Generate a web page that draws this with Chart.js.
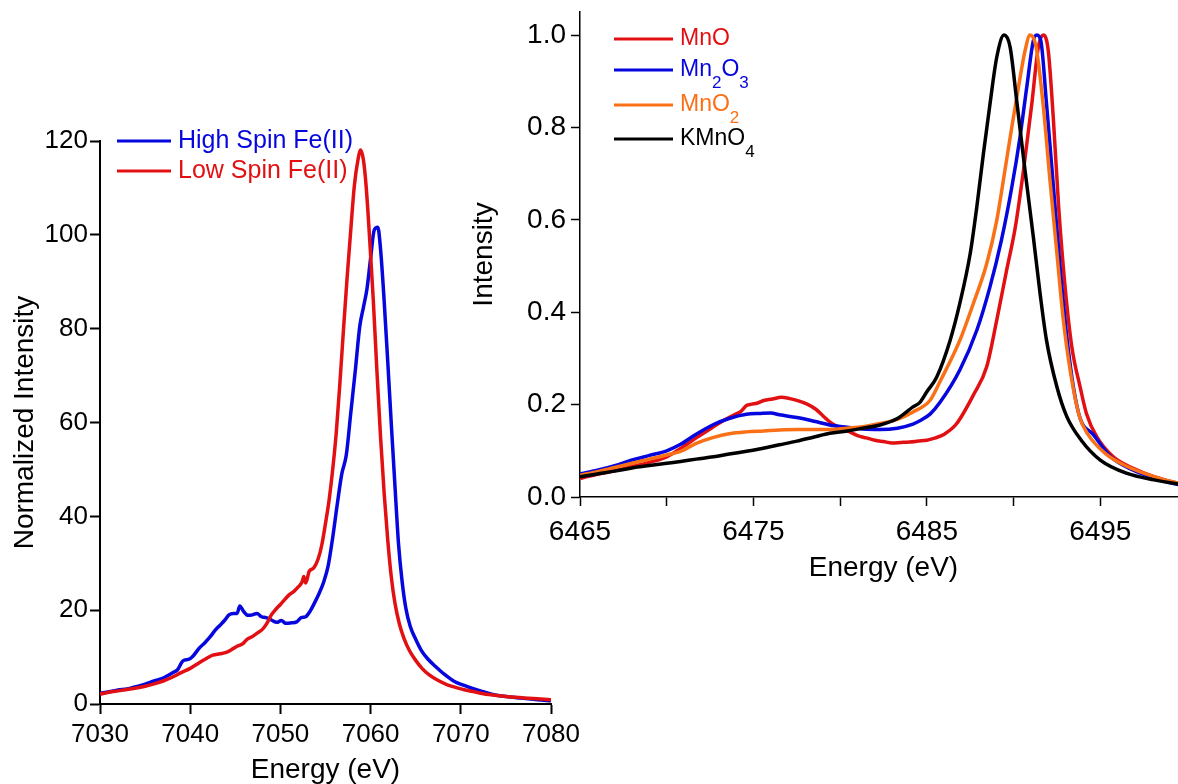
<!DOCTYPE html>
<html>
<head>
<meta charset="utf-8">
<script src="https://cdn.jsdelivr.net/npm/chart.js@4.4.0/dist/chart.umd.min.js"></script>
<style>
  html, body { margin: 0; padding: 0; background: #fff; width: 1178px; height: 784px; overflow: hidden; position: relative; }
  canvas { position: absolute; left: 0; }
  #fe { top: 0; }
  #mn { top: -40px; }
</style>
</head>
<body>
<canvas id="fe" width="1178" height="784"></canvas>
<canvas id="mn" width="1200" height="824"></canvas>
<script>
// ---- Fe K-beta spectra (left panel) ----
const feLabels = ['High Spin Fe(II)', 'Low Spin Fe(II)'];
const feEnergyHS = [7030,7031,7032,7033,7034,7035,7036,7037,7038,7038.6,7039.2,7039.8,7040.3,7041,7041.6,7042.2,7042.8,7043.3,7043.8,7044.3,7044.8,7045.2,7045.5,7045.9,7046.4,7046.9,7047.4,7047.9,7048.4,7049,7049.6,7050.1,7050.6,7051.2,7051.8,7052.3,7052.8,7053.3,7053.8,7054.3,7054.8,7055.3,7055.8,7056.3,7056.8,7057.3,7057.8,7058.3,7058.8,7059.2,7059.6,7060,7060.4,7060.8,7061.1,7061.5,7061.9,7062.3,7062.7,7063.1,7063.5,7063.9,7064.4,7065,7065.6,7066.3,7067.2,7068.2,7069.3,7070.3,7071.3,7072.5,7073.8,7075.5,7077,7078.5,7080];
const feHS = [2.3,2.6,3.0,3.2,3.7,4.2,4.9,5.5,6.6,7.3,9.2,9.5,10.2,11.9,13.0,14.3,15.8,16.8,17.8,19.0,19.3,19.3,20.9,19.8,18.9,19.0,19.3,18.6,18.4,17.9,17.4,17.8,17.2,17.3,17.5,18.4,18.6,19.8,21.6,23.6,26.0,29.5,35.5,42.5,49.0,53.0,62.0,71.0,80.5,84.5,88.5,95.0,101.0,101.6,97.0,86.0,73.0,59.5,46.5,34.0,26.0,20.5,16.5,13.8,11.5,9.7,8.0,6.3,4.8,4.0,3.3,2.6,1.9,1.5,1.2,0.9,0.7];
const feEnergyLS = [7030,7031,7032,7033,7034,7035,7036,7037,7038,7039,7040,7041,7041.8,7042.5,7043.3,7044,7044.6,7045.2,7045.8,7046.3,7046.9,7047.5,7048,7048.5,7049,7049.5,7050,7050.5,7051,7051.5,7052,7052.4,7052.6,7052.8,7053.2,7053.7,7054.2,7054.6,7055,7055.4,7055.8,7056.2,7056.6,7057,7057.4,7057.8,7058.2,7058.6,7058.9,7059.2,7059.5,7059.9,7060.3,7060.7,7061.1,7061.5,7061.9,7062.3,7062.7,7063.2,7063.7,7064.3,7065,7065.7,7066.5,7067.5,7068.5,7069.5,7070.5,7071.5,7072.5,7074,7075.5,7077,7078.5,7080];
const feLS = [2.1,2.5,2.8,3.1,3.4,3.8,4.3,4.9,5.7,6.7,7.6,8.8,9.7,10.4,10.7,11.0,11.6,12.3,12.8,13.8,14.4,15.2,15.9,17.2,19.0,20.2,21.2,22.3,23.3,24.0,25.0,26.0,27.2,25.8,28.3,29.0,31.0,34.0,38.5,43.5,50.0,58.0,68.5,80.0,91.0,101.0,110.5,116.0,118.1,116.0,110.5,99.0,86.0,71.0,57.0,45.0,35.0,27.0,21.5,17.0,14.0,11.4,9.3,7.6,6.2,5.0,4.1,3.5,3.0,2.6,2.2,1.8,1.5,1.3,1.1,0.9];
const feXTicks = [7030, 7040, 7050, 7060, 7070, 7080];
const feYTicks = [0, 20, 40, 60, 80, 100, 120];

// ---- Mn K-beta spectra (right panel) ----
const mnLabels = ['MnO', 'Mn2O3', 'MnO2', 'KMnO4'];
const mnEnergyMnO = [6465,6465.5,6466,6467,6468,6469,6470,6470.8,6471.7,6472.7,6473.3,6473.9,6474.3,6474.6,6474.9,6475.2,6475.6,6476.1,6476.6,6477.1,6477.6,6478.1,6478.6,6479,6479.5,6480,6480.5,6481,6481.5,6482,6482.5,6483,6483.5,6484,6484.5,6485,6485.5,6486,6486.7,6487.7,6488.45,6489.03,6489.6,6490.1,6490.57,6491.05,6491.43,6491.72,6492.0,6492.3,6492.6,6492.97,6493.36,6493.84,6494.2,6494.8,6495.75,6496.9,6498.1,6499.5,6500];
const mnO = [0.040,0.045,0.049,0.057,0.066,0.075,0.087,0.105,0.128,0.152,0.166,0.178,0.186,0.198,0.201,0.203,0.209,0.212,0.216,0.213,0.208,0.201,0.190,0.176,0.160,0.150,0.142,0.133,0.128,0.123,0.120,0.117,0.118,0.119,0.121,0.123,0.128,0.136,0.158,0.222,0.282,0.383,0.491,0.584,0.707,0.851,0.974,1.000,0.966,0.815,0.628,0.455,0.325,0.238,0.181,0.130,0.087,0.062,0.044,0.030,0.028];
const mnEnergyMn2O3 = [6465,6466,6467,6468,6469,6470,6470.8,6471.7,6472.7,6473.6,6474.6,6475.4,6476,6476.5,6477.5,6478.5,6479.4,6480.4,6481.3,6482.3,6483.3,6484.2,6484.6,6485.2,6485.76,6486.9,6487.88,6488.64,6489.3,6489.9,6490.37,6490.76,6491.14,6491.34,6491.57,6491.9,6492.3,6492.68,6493.07,6493.45,6493.84,6494.6,6495.6,6496.9,6498.2,6499.5,6500];
const mn2O3 = [0.050,0.058,0.068,0.080,0.090,0.100,0.114,0.136,0.157,0.170,0.179,0.181,0.182,0.178,0.172,0.164,0.156,0.151,0.147,0.146,0.149,0.158,0.165,0.180,0.205,0.275,0.361,0.455,0.556,0.671,0.779,0.887,0.988,1.000,0.988,0.851,0.671,0.498,0.347,0.238,0.170,0.135,0.087,0.058,0.040,0.027,0.025];
const mnEnergyMnO2 = [6465,6466,6467,6468,6469,6470,6470.8,6471.7,6472.7,6473.6,6474.6,6475.6,6476.5,6477.5,6478.5,6479.4,6480.4,6481.3,6482.3,6483.3,6484.2,6485.2,6485.76,6486.9,6487.68,6488.45,6489.03,6489.5,6489.9,6490.28,6490.66,6490.95,6491.3,6491.7,6492.1,6492.5,6492.87,6493.26,6493.8,6494.3,6495.3,6496.55,6498.1,6499.5,6500];
const mnO2 = [0.047,0.055,0.064,0.073,0.082,0.091,0.099,0.116,0.129,0.137,0.141,0.143,0.145,0.146,0.146,0.146,0.149,0.152,0.159,0.168,0.184,0.210,0.250,0.339,0.419,0.505,0.599,0.707,0.801,0.887,0.966,1.000,0.974,0.851,0.685,0.527,0.383,0.275,0.174,0.135,0.094,0.066,0.044,0.030,0.028];
const mnEnergyKMnO4 = [6465,6466,6467,6468,6469,6470,6470.8,6471.7,6472.7,6473.6,6474.6,6475.5,6476.5,6477.5,6478.5,6479.4,6480.4,6481.3,6482.3,6483.3,6484.2,6484.6,6485.0,6485.57,6486.34,6486.9,6487.5,6487.88,6488.26,6488.64,6489.03,6489.45,6489.8,6490.18,6490.66,6491.14,6491.53,6491.9,6492.5,6493.07,6493.9,6495,6496.55,6498.1,6499.5,6500];
const kMnO4 = [0.044,0.050,0.056,0.063,0.068,0.073,0.077,0.082,0.087,0.093,0.099,0.105,0.113,0.121,0.130,0.138,0.143,0.149,0.156,0.170,0.195,0.205,0.228,0.260,0.339,0.419,0.527,0.628,0.743,0.851,0.952,1.000,0.974,0.858,0.707,0.563,0.440,0.339,0.238,0.174,0.123,0.080,0.051,0.037,0.028,0.026];
const mnXLabelled = [6465, 6475, 6485, 6495];
const mnYTicks = [0, 0.2, 0.4, 0.6, 0.8, 1.0];

const RED = 'rgb(226,16,18)';
const BLUE = 'rgb(6,6,222)';
const ORANGE = 'rgb(250,112,22)';
const BLACK = '#000';
const FONT = '"Liberation Sans", Arial, Helvetica, sans-serif';

Chart.defaults.font.family = FONT;
Chart.defaults.color = '#000';

const pairs = (xs, ys) => xs.map((x, i) => ({ x: x, y: ys[i] }));

// Legend with chemical-formula subscripts: digit runs in a label are lowered and shrunk.
const formulaLegend = {
  id: 'formulaLegend',
  afterDatasetsDraw(chart, args, opts) {
    const ctx = chart.ctx, area = chart.chartArea;
    ctx.save();
    chart.data.datasets.forEach((ds, i) => {
      const y = area.top + opts.rows[i];
      ctx.strokeStyle = ds.borderColor;
      ctx.lineWidth = opts.lineWidth;
      ctx.beginPath();
      ctx.moveTo(area.left + opts.lineFrom, y);
      ctx.lineTo(area.left + opts.lineTo, y);
      ctx.stroke();
      let x = area.left + opts.textAt;
      ctx.fillStyle = ds.borderColor;
      ctx.textAlign = 'left';
      ctx.textBaseline = 'middle';
      ds.label.split(/(\d+)/).forEach((part, k) => {
        if (!part) return;
        const sub = k % 2 === 1;
        ctx.font = (sub ? opts.subSize : opts.size) + 'px ' + FONT;
        ctx.fillText(part, x, y + (sub ? opts.subShift : 0));
        x += ctx.measureText(part).width;
      });
    });
    ctx.restore();
  }
};

function lineSet(label, data, color, order) {
  return {
    label: label, data: data, borderColor: color, backgroundColor: color,
    borderWidth: 3.5, pointRadius: 0, fill: false, order: order,
    cubicInterpolationMode: 'monotone'
  };
}

const axisLook = (w, tl) => ({
  grid: { display: true, drawOnChartArea: false, drawTicks: true, tickLength: tl, tickWidth: w, tickColor: '#000' },
  border: { display: true, color: '#000', width: w }
});

// Left panel
new Chart(document.getElementById('fe'), {
  type: 'line',
  data: {
    datasets: [
      lineSet(feLabels[0], pairs(feEnergyHS, feHS), BLUE, 1),
      lineSet(feLabels[1], pairs(feEnergyLS, feLS), RED, 0)
    ]
  },
  options: {
    responsive: false, animation: false, events: [],
    layout: { padding: { left: 0, top: 141, right: 627, bottom: 0 } },
    plugins: {
      legend: { display: false }, tooltip: { enabled: false },
      formulaLegend: { rows: [0, 30], lineFrom: 17, lineTo: 71, textAt: 78, size: 25, subSize: 17, subShift: 12, lineWidth: 3 }
    },
    scales: {
      x: Object.assign({
        type: 'linear', min: feXTicks[0], max: feXTicks[feXTicks.length - 1],
        afterBuildTicks: s => { s.ticks = feXTicks.map(v => ({ value: v })); },
        afterFit: s => { s.height = 80; },
        ticks: { autoSkip: false, maxRotation: 0, padding: 5, font: { size: 26 }, callback: v => String(v) },
        title: { display: true, text: 'Energy (eV)', font: { size: 28, lineHeight: 1 }, padding: { top: 0, bottom: 0 } }
      }, axisLook(2, 10)),
      y: Object.assign({
        type: 'linear', min: feYTicks[0], max: feYTicks[feYTicks.length - 1],
        afterBuildTicks: s => { s.ticks = feYTicks.map(v => ({ value: v })); },
        afterFit: s => { s.width = 100; },
        ticks: { autoSkip: false, padding: 2, font: { size: 26 }, callback: v => String(v) },
        title: { display: true, text: 'Normalized Intensity', font: { size: 28, lineHeight: 1 }, padding: { top: 11, bottom: 0 } }
      }, axisLook(2, 10))
    }
  },
  plugins: [formulaLegend]
});

// Right panel
new Chart(document.getElementById('mn'), {
  type: 'line',
  data: {
    datasets: [
      lineSet(mnLabels[0], pairs(mnEnergyMnO, mnO), RED, 3),
      lineSet(mnLabels[1], pairs(mnEnergyMn2O3, mn2O3), BLUE, 2),
      lineSet(mnLabels[2], pairs(mnEnergyMnO2, mnO2), ORANGE, 1),
      lineSet(mnLabels[3], pairs(mnEnergyKMnO4, kMnO4), BLACK, 0)
    ]
  },
  options: {
    responsive: false, animation: false, events: [],
    layout: { padding: { left: 470, top: 52, right: 13, bottom: 197 } },
    plugins: {
      legend: { display: false }, tooltip: { enabled: false },
      formulaLegend: { rows: [27, 58, 93, 127], lineFrom: 34, lineTo: 93, textAt: 100, size: 23, subSize: 17, subShift: 13, lineWidth: 3 }
    },
    scales: {
      x: Object.assign({
        type: 'linear', min: 6465, max: 6500,
        ticks: {
          stepSize: 5, autoSkip: false, maxRotation: 0, padding: 9, font: { size: 28 },
          callback: v => (mnXLabelled.includes(v) ? String(v) : '')
        },
        afterFit: s => { s.height = 90; },
        title: { display: true, text: 'Energy (eV)', font: { size: 28, lineHeight: 1 }, padding: { top: 0, bottom: 5 } }
      }, axisLook(1.5, 9)),
      y: Object.assign({
        type: 'linear', min: 0, max: 1.05,
        afterBuildTicks: s => { s.ticks = mnYTicks.map(v => ({ value: v })); },
        afterFit: s => { s.width = 110; },
        ticks: { autoSkip: false, padding: 5, font: { size: 28 }, callback: v => v.toFixed(1) },
        title: { display: true, text: 'Intensity', font: { size: 28, lineHeight: 1 }, padding: { top: 0, bottom: 0 } }
      }, axisLook(1.5, 9))
    }
  },
  plugins: [formulaLegend]
});
</script>
</body>
</html>
